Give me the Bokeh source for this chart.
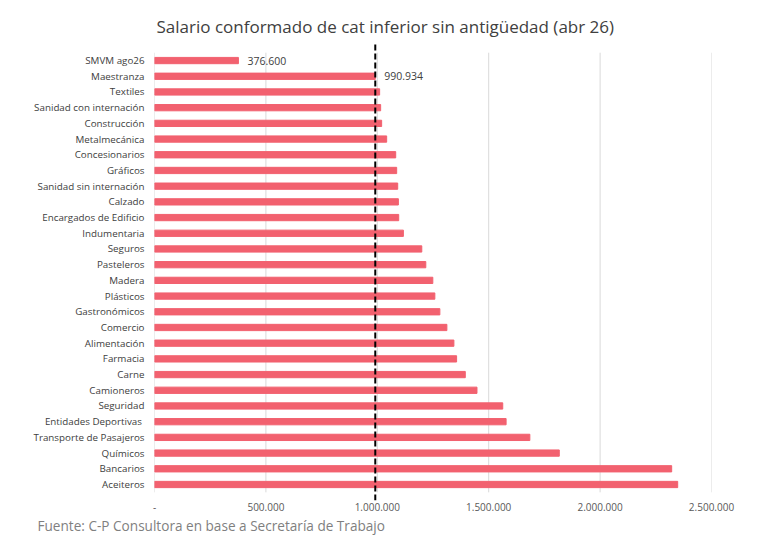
from bokeh.plotting import figure
from bokeh.models import Range1d, FixedTicker, Title, Label
from bokeh.embed import file_html
from bokeh.resources import INLINE

# categories top to bottom
sectores = ["SMVM ago26", "Maestranza", "Textiles", "Sanidad con internación",
            "Construcción", "Metalmecánica", "Concesionarios", "Gráficos",
            "Sanidad sin internación", "Calzado", "Encargados de Edificio",
            "Indumentaria", "Seguros", "Pasteleros", "Madera", "Plásticos",
            "Gastronómicos", "Comercio", "Alimentación", "Farmacia", "Carne",
            "Camioneros", "Seguridad", "Entidades Deportivas ",
            "Transporte de Pasajeros", "Químicos", "Bancarios", "Aceiteros"]
salarios = [376600, 990934, 1010500, 1015000, 1019500, 1042000, 1082600,
            1087000, 1091600, 1094600, 1096100, 1117100, 1199700, 1217700,
            1249200, 1258300, 1280800, 1312300, 1343800, 1355900, 1394900,
            1447400, 1563000, 1578100, 1684700, 1816800, 2321300, 2348300]
referencia = 990934
ticks_x = [0, 500000, 1000000, 1500000, 2000000, 2500000]
ticks_x_txt = ["-", "500.000", "1.000.000", "1.500.000", "2.000.000", "2.500.000"]
etiquetas = {"SMVM ago26": "376.600", "Maestranza": "990.934"}

n = len(sectores)
ypos = [n - 1 - i for i in range(n)]
FONT = "Open Sans"

p = figure(width=754, height=540, output_backend="svg", toolbar_location=None,
           x_range=Range1d(0, 2500000), y_range=Range1d(-1.02, n + 0.15),
           min_border_left=154, min_border_right=43, min_border_top=42,
           min_border_bottom=40)
p.outline_line_color = None
p.background_fill_color = "white"
p.border_fill_color = "white"
p.xgrid.visible = False
p.ygrid.visible = False

# gridlines and value axis line, only over the bar area
p.segment(x0=ticks_x, x1=ticks_x, y0=[-0.5] * len(ticks_x), y1=[n - 0.5] * len(ticks_x),
          line_color="#d9d9d9", line_width=1)

p.hbar(y=ypos, right=salarios, left=0, height=0.4, color="#f2616f")

# reference dashed line
p.segment(x0=[referencia], x1=[referencia], y0=[-1.02], y1=[n + 0.15],
          line_color="black", line_width=2, line_dash="6 3")

for nombre, txt in etiquetas.items():
    i = sectores.index(nombre)
    p.add_layout(Label(x=salarios[i], y=ypos[i], text=txt, x_offset=9,
                       text_baseline="middle", text_font=FONT,
                       text_font_size="10.5px", text_color="#404040"))

p.yaxis.ticker = FixedTicker(ticks=ypos)
p.yaxis.major_label_overrides = {y: s for y, s in zip(ypos, sectores)}
p.yaxis.axis_line_color = None
p.yaxis.major_tick_line_color = None
p.yaxis.major_tick_out = 0
p.yaxis.major_tick_in = 0
p.yaxis.minor_tick_line_color = None
p.yaxis.major_label_standoff = 10
p.yaxis.major_label_text_font = FONT
p.yaxis.major_label_text_font_size = "9.8px"
p.yaxis.major_label_text_color = "#404040"

p.xaxis.ticker = FixedTicker(ticks=ticks_x)
p.xaxis.major_label_overrides = {t: s for t, s in zip(ticks_x, ticks_x_txt)}
p.xaxis.axis_line_color = None
p.xaxis.major_tick_line_color = None
p.xaxis.major_tick_out = 0
p.xaxis.major_tick_in = 0
p.xaxis.minor_tick_line_color = None
p.xaxis.major_label_standoff = 2
p.xaxis.major_label_text_font = FONT
p.xaxis.major_label_text_font_size = "10px"
p.xaxis.major_label_text_color = "#595959"

p.add_layout(Title(text="Fuente: C-P Consultora en base a Secretaría de Trabajo",
                   align="left", offset=-117, standoff=0, text_font=FONT,
                   text_font_size="13.6px", text_font_style="normal",
                   text_color="#7f7f7f"), "below")
p.add_layout(Title(text="Salario conformado de cat inferior sin antigüedad (abr 26)",
                   align="left", offset=2, text_font=FONT, text_font_size="17px",
                   text_font_style="normal", text_color="#404040"), "above")

open("out.html", "w").write(file_html(p, INLINE))
